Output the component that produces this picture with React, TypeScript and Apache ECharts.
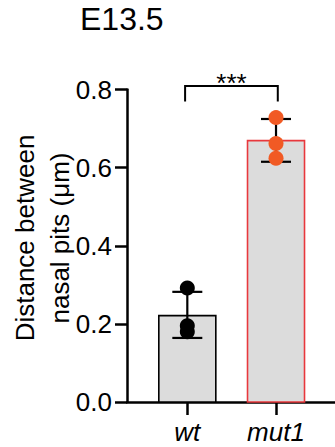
import React, { useEffect, useRef } from "react";
import * as echarts from "echarts";

const categories = ["wt", "mut1"];
const barMeans = [0.221, 0.669];
const errUpper = [0.282, 0.7245];
const errLower = [0.164, 0.615];
const wtPoints = [0.292, 0.195, 0.18];
const mut1Points = [0.728, 0.662, 0.624];
const yTicks = [0, 0.2, 0.4, 0.6, 0.8];
const bracketTop = 0.809;
const bracketBottom = 0.769;
const sigLabel = "***";
const sigLabelY = 0.8175;
const titleText = "E13.5";
const yName = ["Distance between", "nasal pits (\u03bcm)"];

const FONT = "'Liberation Sans', Arial, Helvetica, sans-serif";

export default function App() {
  const ref = useRef<HTMLDivElement>(null);
  useEffect(() => {
    if (!ref.current) return;
    const chart = echarts.init(ref.current, undefined, { renderer: "svg" });
    const barBorders = ["#000000", "#E8383D"];
    const option: any = {
      animation: false,
      backgroundColor: "#ffffff",
      textStyle: { fontFamily: FONT },
      title: {
        text: titleText,
        left: 80,
        top: 3,
        padding: 0,
        textStyle: { fontSize: 32, fontWeight: "normal", color: "#000", fontFamily: FONT },
      },
      graphic: [
        {
          type: "text",
          x: 42,
          y: 238,
          rotation: Math.PI / 2,
          style: {
            text: yName.join("\n"),
            fontSize: 26,
            lineHeight: 35,
            fontFamily: FONT,
            fill: "#000",
            align: "center",
            verticalAlign: "middle",
          },
        },
      ],
      grid: { left: 127, right: 0, top: 89.5, bottom: 45, containLabel: false, outerBoundsMode: "none" },
      xAxis: {
        type: "value",
        min: 0.32,
        max: 2.665,
        splitLine: { show: false },
        axisLine: { show: true, lineStyle: { color: "#000", width: 2.5 } },
        axisTick: { show: true, customValues: [1, 2], length: 13, lineStyle: { color: "#000", width: 2.5 } },
        axisLabel: {
          customValues: [1, 2],
          formatter: (v: number) => categories[Math.round(v) - 1] ?? "",
          fontSize: 26,
          fontStyle: "italic",
          color: "#000",
          fontFamily: FONT,
          margin: 17,
        },
      },
      yAxis: {
        type: "value",
        min: 0,
        max: 0.8,
        interval: 0.2,
        splitLine: { show: false },
        axisLine: { show: true, lineStyle: { color: "#000", width: 2.5 } },
        axisTick: { show: true, length: 12, lineStyle: { color: "#000", width: 2.5 } },
        axisLabel: {
          fontSize: 26,
          color: "#000",
          fontFamily: FONT,
          margin: 15,
          formatter: (v: number) => (yTicks.includes(Math.round(v * 10) / 10) ? v.toFixed(1) : ""),
        },
      },
      series: [
        {
          type: "custom",
          z: 1,
          clip: false,
          data: barMeans.map((m, i) => [i + 1, m, i]),
          renderItem: (params: any, api: any) => {
            const x = api.value(0);
            const top = api.coord([x, api.value(1)]);
            const base = api.coord([x, 0]);
            const idx = api.value(2);
            return {
              type: "rect",
              shape: { x: top[0] - 28.5, y: top[1], width: 57, height: base[1] - top[1] },
              style: { fill: "#DCDCDC", stroke: barBorders[idx], lineWidth: 1.6 },
            };
          },
        },
        {
          type: "custom",
          z: 2,
          clip: false,
          data: barMeans.map((_, i) => [i + 1, errLower[i], errUpper[i]]),
          renderItem: (params: any, api: any) => {
            const x = api.value(0);
            const lo = api.coord([x, api.value(1)]);
            const hi = api.coord([x, api.value(2)]);
            const st = { stroke: "#000", lineWidth: 2.2 };
            return {
              type: "group",
              children: [
                { type: "line", shape: { x1: lo[0], y1: lo[1], x2: hi[0], y2: hi[1] }, style: st },
                { type: "line", shape: { x1: lo[0] - 15, y1: lo[1], x2: lo[0] + 15, y2: lo[1] }, style: st },
                { type: "line", shape: { x1: hi[0] - 15, y1: hi[1], x2: hi[0] + 15, y2: hi[1] }, style: st },
              ],
            };
          },
        },
        {
          type: "scatter",
          z: 3,
          symbol: "circle",
          symbolSize: 15,
          itemStyle: { color: "#000000", opacity: 1 },
          data: wtPoints.map((v) => [1, v]),
        },
        {
          type: "scatter",
          z: 3,
          symbol: "circle",
          symbolSize: 15,
          itemStyle: { color: "#F15A24", opacity: 1 },
          data: mut1Points.map((v) => [2, v]),
        },
        {
          type: "custom",
          z: 4,
          clip: false,
          data: [[0.975, 2.02, bracketTop, bracketBottom, sigLabelY]],
          renderItem: (params: any, api: any) => {
            const x1 = api.value(0);
            const x2 = api.value(1);
            const a = api.coord([x1, api.value(3)]);
            const b = api.coord([x1, api.value(2)]);
            const c = api.coord([x2, api.value(2)]);
            const d = api.coord([x2, api.value(3)]);
            const t = api.coord([(x1 + x2) / 2, api.value(4)]);
            return {
              type: "group",
              children: [
                {
                  type: "polyline",
                  shape: { points: [a, b, c, d] },
                  style: { stroke: "#000", lineWidth: 2, fill: "none" },
                },
                {
                  type: "text",
                  x: t[0],
                  y: t[1],
                  style: {
                    text: sigLabel,
                    fontSize: 26,
                    fontFamily: FONT,
                    fill: "#000",
                    align: "center",
                    verticalAlign: "middle",
                  },
                },
              ],
            };
          },
        },
      ],
    };
    chart.setOption(option);
    return () => chart.dispose();
  }, []);
  return (
    <div
      ref={ref}
      style={{ position: "absolute", left: 0, top: 0, width: 335, height: 447 }}
    />
  );
}
